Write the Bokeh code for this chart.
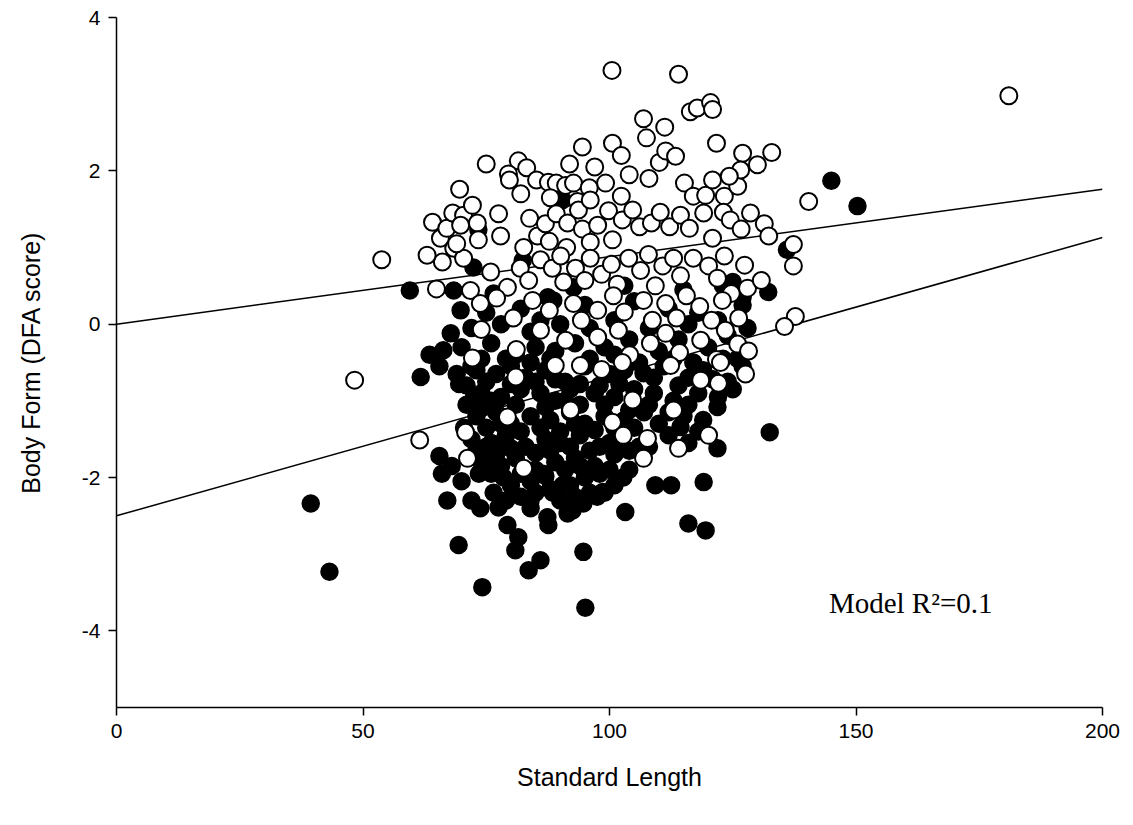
from bokeh.plotting import figure
from bokeh.models import Range1d, Label, FixedTicker, CustomJSTickFormatter
from bokeh.embed import file_html
from bokeh.resources import INLINE

# Open circles (group 1)
open_pts = [
 (53.8,0.84),(48.3,-0.73),(61.5,-1.51),
 (64.1,1.33),(65.7,1.12),(67.0,1.25),(68.2,1.45),(69.6,1.76),(70.4,1.42),(68.4,0.99),(64.9,0.46),(66.1,0.81),(70.4,0.86),(71.8,0.44),(63.0,0.9),(69.0,1.05),
 (100.5,3.31),(114.0,3.26),(181.0,2.98),
 (100.6,2.36),(102.4,2.2),(116.4,2.77),(117.8,2.82),(120.5,2.89),(120.9,2.8),(111.2,2.57),(106.9,2.68),(107.5,2.43),(121.7,2.36),(127.0,2.23),(132.9,2.24),(130.0,2.08),(94.5,2.31),(91.9,2.09),(75.0,2.09),(81.5,2.13),(83.2,2.04),(79.5,1.96),(79.7,1.88),(85.2,1.88),(87.6,1.85),(89.2,1.84),(91.1,1.81),(92.7,1.84),(95.9,1.78),(99.2,1.84),(102.4,1.67),(110.1,2.11),(111.4,2.26),(113.4,2.19),(115.2,1.84),(117.0,1.67),(119.5,1.68),(120.9,1.88),(123.3,1.67),(126.0,1.8),(126.6,2.01),(124.3,1.93),(104.0,1.95),(108.0,1.9),(97.0,2.05),(88.0,1.65),(82.0,1.7),(93.5,1.6),
 (77.5,1.44),(77.9,1.15),(83.8,1.38),(85.4,1.15),(87.0,1.31),(89.2,1.44),(91.5,1.32),(93.7,1.49),(96.1,1.62),(94.5,1.24),(97.6,1.29),(99.8,1.48),(102.6,1.36),(104.7,1.49),(106.1,1.27),(108.5,1.32),(110.3,1.46),(112.2,1.27),(114.4,1.42),(116.2,1.25),(119.1,1.45),(120.9,1.12),(123.1,1.46),(124.5,1.36),(126.7,1.24),(128.6,1.45),(131.4,1.31),(132.3,1.15),(100.6,1.1),(96.1,1.07),(91.3,1.0),(87.8,1.08),(82.6,1.0),(73.2,1.32),(72.2,1.55),(73.4,1.1),(69.8,1.29),
 (75.9,0.68),(79.3,0.48),(81.9,0.73),(83.6,0.57),(86.0,0.84),(88.4,0.73),(90.1,0.89),(90.7,0.55),(93.1,0.73),(95.0,0.57),(96.1,0.86),(98.4,0.65),(100.4,0.78),(101.6,0.52),(103.9,0.86),(106.3,0.7),(107.9,0.91),(109.3,0.5),(110.8,0.76),(113.0,0.86),(114.4,0.63),(117.0,0.86),(120.1,0.76),(121.9,0.6),(123.3,0.89),(124.7,0.4),(128.0,0.47),(127.4,0.77),(130.8,0.57),
 (73.8,0.27),(77.1,0.34),(80.5,0.08),(84.4,0.31),(87.8,0.18),(92.7,0.27),(94.3,0.05),(97.6,0.18),(100.8,0.37),(103.0,0.16),(106.9,0.31),(108.7,0.05),(111.4,0.27),(113.6,0.08),(115.6,0.37),(118.3,0.23),(120.7,0.05),(122.9,0.31),(126.2,0.08),
 (74.0,-0.07),(81.1,-0.33),(86.0,-0.08),(91.1,-0.21),(94.1,-0.54),(97.6,-0.17),(101.8,-0.08),(104.1,-0.4),(108.3,-0.25),(111.4,-0.12),(114.2,-0.37),(118.5,-0.21),(121.7,-0.46),(123.5,-0.08),(126.0,-0.26),
 (81.0,-0.69),(79.3,-1.21),(71.2,-1.75),(82.6,-1.88),(89.0,-0.54),(92.1,-1.12),(70.8,-1.41),(104.7,-0.99),(100.6,-1.28),(102.8,-1.45),(107.7,-1.49),(106.9,-1.75),(113.0,-1.12),(114.0,-1.62),(120.1,-1.45),(112.4,-0.54),(118.5,-0.73),(122.1,-0.77),(122.5,-0.5),(102.6,-0.5),(127.6,-0.65),(128.2,-0.35),(98.4,-0.59),(72.2,-0.44),
 (140.4,1.6),(137.3,1.04),(137.3,0.76),(137.7,0.10),(135.5,-0.03),
]

# Filled circles (group 2)
filled_pts = [
 (39.4,-2.34),(43.2,-3.23),(59.5,0.44),(61.7,-0.69),(74.2,-3.43),(69.4,-2.88),(95.1,-3.7),(94.7,-2.97),(83.6,-3.21),(86.0,-3.08),(119.5,-2.69),(116.0,-2.6),(112.5,-2.1),(119.1,-2.06),(109.3,-2.1),(103.2,-2.45),(102.8,-2.0),(98.6,-2.19),(132.5,-1.41),(145.0,1.87),(150.3,1.54),(136.0,0.97),(90.5,1.62),(73.4,1.23),(82.4,0.83),
 (68.4,0.44),(69.8,0.18),(67.8,-0.12),(66.3,-0.34),(88.6,0.31),(92.7,0.48),(72.4,0.74),
 (63.5,-0.4),(65.5,-0.55),(69.0,-0.65),(69.5,-0.78),(71.0,-0.8),(73.0,-0.6),(72.5,-0.95),(74.0,-1.1),(70.5,-1.35),(65.5,-1.72),(66.0,-1.95),(67.1,-2.3),(68.0,-1.85),(70.0,-2.05),(72.0,-2.3),(73.8,-2.4),(73.5,-1.95),(75.0,-1.6),(76.5,-2.2),(75.5,-1.85),(77.5,-2.39),(79.0,-2.3),(78.5,-2.0),(78.0,-1.55),(79.3,-2.62),(81.5,-2.78),(80.9,-2.95),(84.0,-2.4),(85.0,-2.2),(87.4,-2.52),(87.6,-2.62),(86.5,-1.95),(88.5,-2.2),(90.5,-2.1),(91.5,-2.47),(92.5,-2.43),(94.7,-2.34),(96.0,-2.2),(97.5,-2.25),
 (76.5,0.4),(87.5,0.35),(103.0,0.5),(115.0,0.45),(125.0,0.55),(127.0,0.35),(132.2,0.42),(123.0,0.5),
 (75,0.15),(82,0.2),(86,0.05),(95,0.25),(105,0.3),(112,0.2),(118,0.15),(122,0.05),(127,0.25),
 (72,-0.05),(78,0.0),(84,-0.1),(90,0.0),(96,-0.05),(101,0.05),(108,-0.05),(116,0.0),(124,-0.15),(128,-0.05),
 (70,-0.3),(76,-0.25),(81,-0.4),(85,-0.3),(89,-0.35),(93,-0.25),(99,-0.3),(104,-0.2),(110,-0.35),(114,-0.2),(120,-0.3),(126,-0.45),(128,-0.35),
 (74,-0.45),(79,-0.45),(84,-0.5),(88,-0.45),(96,-0.45),(101,-0.4),(106,-0.5),(113,-0.45),(117,-0.5),(123,-0.45),
 (72,-0.55),(77,-0.65),(80,-0.55),(83,-0.7),(87,-0.6),(91,-0.75),(95,-0.55),(100,-0.65),(103,-0.6),(106.9,-0.64),(111,-0.55),(116,-0.7),(119,-0.6),(124,-0.75),(127,-0.55),
 (75,-0.75),(80,-0.78),(85,-0.75),(89,-0.72),(94,-0.78),(98,-0.8),(102,-0.78),(109,-0.7),(114,-0.8),(121,-0.72),
 (74,-0.9),(78,-0.95),(82,-0.85),(86,-0.9),(89,-1.0),(92,-0.85),(97,-0.9),(101,-0.95),(105,-0.85),(109,-0.9),(113,-1.0),(118,-0.9),(122,-0.95),(125,-0.85),
 (71,-1.05),(76,-1.0),(81,-1.05),(87,-1.08),(91,-1.0),(94,-1.05),(99,-1.05),(104,-1.12),(108,-1.05),(112,-1.15),(116,-1.05),(121.9,-1.08),
 (73,-1.2),(77,-1.15),(80,-1.3),(84,-1.2),(88,-1.25),(92,-1.15),(95,-1.3),(99,-1.2),(103,-1.25),(107,-1.15),(110,-1.3),(115,-1.2),(119,-1.25),
 (75,-1.35),(78,-1.3),(82,-1.4),(86,-1.35),(90,-1.4),(93,-1.3),(97,-1.38),(101,-1.35),(105,-1.35),(114.4,-1.34),(118,-1.4),
 (72,-1.5),(76,-1.55),(79,-1.45),(83,-1.6),(87,-1.5),(90,-1.55),(94,-1.45),(98,-1.6),(102,-1.5),(106,-1.6),(112,-1.45),(116,-1.55),(121.9,-1.62),
 (73,-1.65),(77,-1.7),(80,-1.62),(85,-1.68),(88,-1.65),(92,-1.6),(96,-1.65),(100,-1.55),(104,-1.65),(108,-1.6),
 (74,-1.8),(78,-1.85),(81,-1.75),(85,-1.9),(89,-1.8),(93,-1.75),(97,-1.85),(101,-1.7),(104,-1.9),
 (76,-1.95),(82,-1.95),(87,-1.98),(91,-1.9),(94,-1.85),(98,-1.95),(100,-1.9),
 (80,-2.1),(84,-2.05),(88,-2.15),(92,-2.1),(95,-2.0),(99,-2.2),(101,-2.1),
 (82,-2.25),(84,-2.3),(90,-2.3),(93,-2.25),
]

open_x = [p[0] for p in open_pts]
open_y = [p[1] for p in open_pts]
filled_x = [p[0] for p in filled_pts]
filled_y = [p[1] for p in filled_pts]

# Regression lines (intercept, slope)
line_x = [0, 200]
open_line = (0.0, 0.0088)
filled_line = (-2.5, 0.01815)

x_ticks = [0, 50, 100, 150, 200]
y_ticks = [-4, -2, 0, 2, 4]

p = figure(width=1133, height=825, output_backend="svg", toolbar_location=None,
           x_range=Range1d(0, 200), y_range=Range1d(-5, 4),
           min_border_left=116, min_border_right=31, min_border_top=17, min_border_bottom=118)
p.outline_line_color = None
p.grid.visible = False
p.background_fill_color = "white"
p.border_fill_color = "white"

p.line(line_x, [open_line[0] + open_line[1] * x for x in line_x], line_color="black", line_width=1.5)
p.line(line_x, [filled_line[0] + filled_line[1] * x for x in line_x], line_color="black", line_width=1.5)

p.scatter(filled_x, filled_y, marker="circle", size=17, fill_color="black", line_color="black", line_width=1.5)
p.scatter(open_x, open_y, marker="circle", size=17, fill_color="white", line_color="black", line_width=2)

font = "Liberation Sans"
for ax in (p.xaxis[0], p.yaxis[0]):
    ax.axis_line_color = "black"
    ax.axis_line_width = 1.5
    ax.major_tick_line_color = "black"
    ax.major_tick_line_width = 1.5
    ax.major_tick_out = 8
    ax.major_tick_in = 0
    ax.minor_tick_line_color = None
    ax.major_label_text_font = font
    ax.major_label_text_font_size = "21px"
    ax.major_label_text_color = "black"
    ax.axis_label_text_font = font
    ax.axis_label_text_font_size = "25px"
    ax.axis_label_text_font_style = "normal"
    ax.axis_label_text_color = "black"
    ax.formatter = CustomJSTickFormatter(code="return tick.toFixed(0);")

p.xaxis.ticker = FixedTicker(ticks=x_ticks)
p.yaxis.ticker = FixedTicker(ticks=y_ticks)
p.xaxis.axis_label = "Standard Length"
p.yaxis.axis_label = "Body Form (DFA score)"
p.xaxis.major_label_standoff = 8
p.xaxis.axis_label_standoff = 22
p.yaxis.major_label_standoff = 8
p.yaxis.axis_label_standoff = 34

p.add_layout(Label(x=144.5, y=-3.64, text="Model R²=0.1", text_font="Liberation Serif",
                   text_font_size="29px", text_baseline="middle", text_color="black"))

open("out.html", "w").write(file_html(p, INLINE))
